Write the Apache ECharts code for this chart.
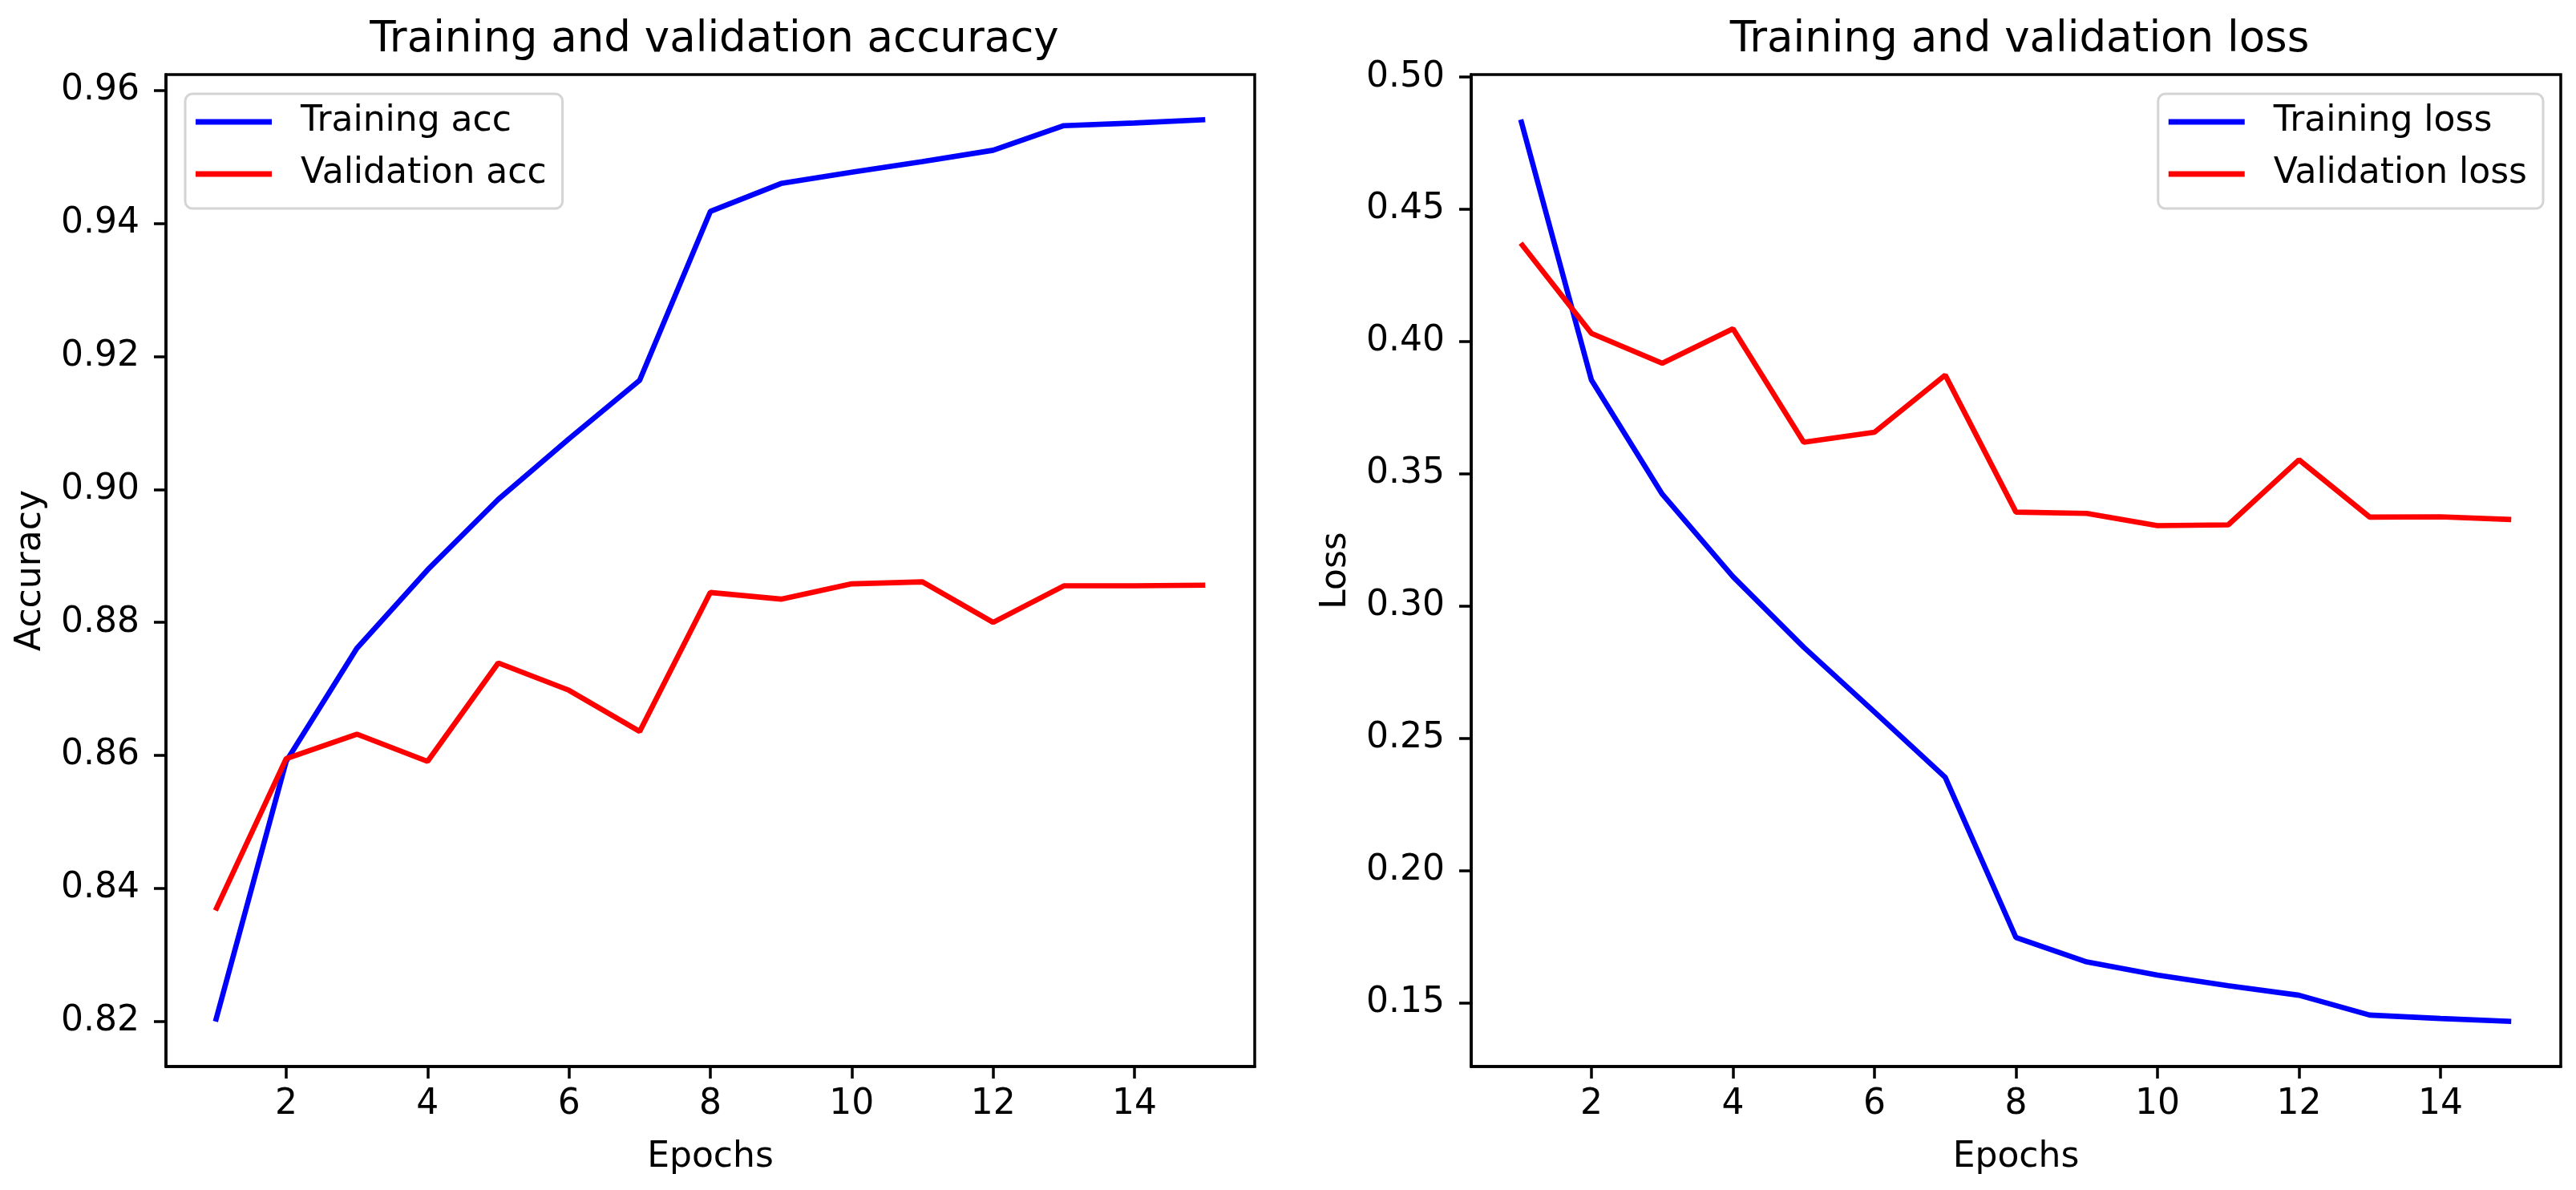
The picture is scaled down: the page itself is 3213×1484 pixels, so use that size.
<!DOCTYPE html>
<html>
<head>
<meta charset="utf-8">
<script src="https://cdn.jsdelivr.net/npm/echarts@6/dist/echarts.min.js"></script>
<style>
  html, body { margin: 0; padding: 0; background: #ffffff; }
  #chart { width: 3213px; height: 1484px; }
</style>
</head>
<body>
<div id="chart"></div>
<script>
// ---- data ----
const epochs = [1, 2, 3, 4, 5, 6, 7, 8, 9, 10, 11, 12, 13, 14, 15];
const trainAcc = [0.8200, 0.8591, 0.8761, 0.8879, 0.8985, 0.9076, 0.9164, 0.9418, 0.9460, 0.9477, 0.9493, 0.9510, 0.9547, 0.9551, 0.9556];
const valAcc   = [0.8367, 0.8595, 0.8632, 0.8591, 0.8739, 0.8698, 0.8636, 0.8845, 0.8835, 0.8858, 0.8861, 0.8800, 0.8855, 0.8855, 0.8856];
const trainLoss = [0.4839, 0.3854, 0.3423, 0.3111, 0.2844, 0.2599, 0.2352, 0.1746, 0.1654, 0.1604, 0.1564, 0.1528, 0.1453, 0.1440, 0.1429];
const valLoss   = [0.4372, 0.4031, 0.3918, 0.4048, 0.3619, 0.3657, 0.3873, 0.3355, 0.3350, 0.3304, 0.3307, 0.3553, 0.3336, 0.3337, 0.3327];

const xTicks = [2, 4, 6, 8, 10, 12, 14];
const accTicks = [0.82, 0.84, 0.86, 0.88, 0.90, 0.92, 0.94, 0.96];
const lossTicks = [0.15, 0.20, 0.25, 0.30, 0.35, 0.40, 0.45, 0.50];

const titles = ['Training and validation accuracy', 'Training and validation loss'];
const yNames = ['Accuracy', 'Loss'];
const xName = 'Epochs';
const legendAcc = ['Training acc', 'Validation acc'];
const legendLoss = ['Training loss', 'Validation loss'];

// ---- helpers ----
const FONT = 'DejaVu Sans';
const BLUE = '#0000ff', RED = '#ff0000';
function pairs(xs, ys) { return xs.map((x, i) => [x, ys[i]]); }
function autoRange(arrs) {
  const all = [].concat(...arrs);
  const lo = Math.min(...all), hi = Math.max(...all);
  const m = (hi - lo) * 0.05;
  return [lo - m, hi + m];
}
const xR = autoRange([epochs]);
const accR = autoRange([trainAcc, valAcc]);
const lossR = autoRange([trainLoss, valLoss]);

function xAxis(idx) {
  return {
    type: 'value', gridIndex: idx, min: xR[0], max: xR[1],
    name: xName, nameLocation: 'middle', nameGap: 92,
    nameTextStyle: { fontFamily: FONT, fontSize: 44, color: '#000' },
    axisLine: { show: true, lineStyle: { color: '#000', width: 3.5 } },
    axisTick: { show: true, length: 15, lineStyle: { color: '#000', width: 3.5 }, customValues: xTicks },
    axisLabel: { fontFamily: FONT, fontSize: 44, color: '#000', margin: 26, customValues: xTicks,
                 formatter: v => String(v) },
    splitLine: { show: false }
  };
}
function yAxis(idx, r, ticks, name) {
  return {
    type: 'value', gridIndex: idx, min: r[0], max: r[1],
    name: name, nameLocation: 'middle', nameGap: 146, nameRotate: 90,
    nameTextStyle: { fontFamily: FONT, fontSize: 44, color: '#000' },
    axisLine: { show: true, lineStyle: { color: '#000', width: 3.5 } },
    axisTick: { show: true, length: 15, lineStyle: { color: '#000', width: 3.5 }, customValues: ticks },
    axisLabel: { fontFamily: FONT, fontSize: 44, color: '#000', margin: 33, customValues: ticks,
                 formatter: v => Number(v).toFixed(2) },
    splitLine: { show: false }
  };
}
function legend(names, pos) {
  return Object.assign({
    data: names, orient: 'vertical', top: 117,
    icon: 'rect', itemWidth: 95, itemHeight: 7, itemGap: 21,
    padding: [13, 20, 21, 13],
    backgroundColor: 'rgba(255,255,255,0.8)',
    borderColor: '#d4d4d4', borderWidth: 3, borderRadius: 9,
    textStyle: { fontFamily: FONT, fontSize: 44, color: '#000', lineHeight: 44, padding: [0, 0, 0, 31] }
  }, pos);
}
function line(name, data, color, xi, yi) {
  return {
    type: 'line', name: name, xAxisIndex: xi, yAxisIndex: yi,
    data: data, showSymbol: false, symbol: 'none',
    lineStyle: { color: color, width: 6.6 }, itemStyle: { color: color },
    animation: false
  };
}

const chart = echarts.init(document.getElementById('chart'));
chart.setOption({
  backgroundColor: '#ffffff',
  animation: false,
  title: [
    { text: titles[0], left: 886, top: 19, textAlign: 'center',
      textStyle: { fontFamily: FONT, fontSize: 53, fontWeight: 'normal', color: '#000' } },
    { text: titles[1], left: 2514, top: 19, textAlign: 'center',
      textStyle: { fontFamily: FONT, fontSize: 53, fontWeight: 'normal', color: '#000' } }
  ],
  legend: [
    legend(legendAcc, { left: 231 }),
    legend(legendLoss, { right: 41 })
  ],
  grid: [
    { left: 207, top: 93, width: 1358, height: 1237, show: true, borderColor: '#000', borderWidth: 3.5, containLabel: false },
    { left: 1835, top: 93, width: 1359, height: 1237, show: true, borderColor: '#000', borderWidth: 3.5, containLabel: false }
  ],
  xAxis: [xAxis(0), xAxis(1)],
  yAxis: [yAxis(0, accR, accTicks, yNames[0]), yAxis(1, lossR, lossTicks, yNames[1])],
  series: [
    line(legendAcc[0], pairs(epochs, trainAcc), BLUE, 0, 0),
    line(legendAcc[1], pairs(epochs, valAcc), RED, 0, 0),
    line(legendLoss[0], pairs(epochs, trainLoss), BLUE, 1, 1),
    line(legendLoss[1], pairs(epochs, valLoss), RED, 1, 1)
  ]
});
</script>
</body>
</html>
